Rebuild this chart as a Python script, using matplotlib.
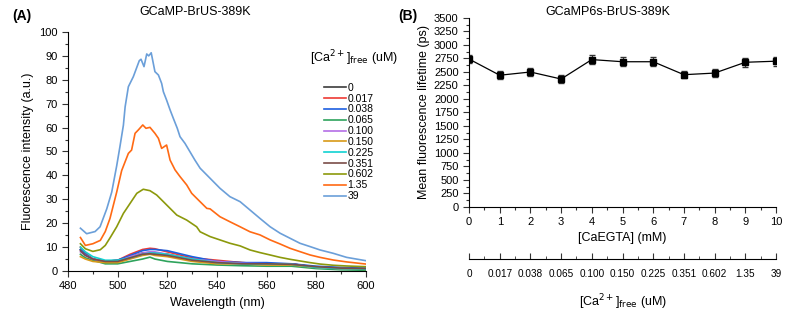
import matplotlib
matplotlib.use('Agg')
import matplotlib.pyplot as plt
from matplotlib.ticker import MultipleLocator

plt.rcParams['font.family'] = ['Liberation Sans', 'DejaVu Sans']

# --- Dados (A) espectros ---
wl_low = [485, 487, 490, 495, 500, 505, 510, 513, 515, 520, 530, 540, 550, 560, 570, 580, 590, 600]
low_series = {
    '0':     [9.0, 7.0, 5.0, 4.0, 4.5, 6.0, 7.5, 7.8, 7.5, 7.0, 5.0, 4.0, 3.5, 3.0, 3.0, 1.5, 1.0, 1.0],
    '0.017': [10.0, 7.5, 5.0, 4.0, 4.5, 7.0, 9.0, 9.5, 9.3, 8.0, 5.5, 4.5, 3.5, 3.0, 3.0, 1.5, 1.2, 1.0],
    '0.038': [9.0, 7.0, 5.0, 4.0, 4.5, 6.5, 8.5, 9.0, 9.0, 8.5, 6.0, 4.0, 3.5, 3.5, 3.0, 2.0, 1.5, 1.2],
    '0.065': [7.0, 5.5, 4.5, 3.0, 3.0, 4.0, 5.0, 5.8, 5.0, 4.0, 3.0, 2.5, 2.2, 2.0, 2.0, 1.0, 0.5, 0.3],
    '0.100': [8.0, 6.5, 5.0, 4.0, 4.0, 6.0, 7.5, 8.0, 8.0, 7.0, 5.0, 4.0, 3.2, 3.0, 2.8, 1.5, 1.0, 0.8],
    '0.150': [6.0, 5.0, 4.0, 3.5, 3.5, 5.0, 6.5, 7.0, 6.5, 6.0, 4.0, 3.0, 3.0, 2.5, 2.5, 1.5, 1.0, 0.7],
    '0.225': [10.0, 8.0, 6.0, 4.5, 4.5, 5.5, 7.0, 7.5, 7.5, 7.0, 5.0, 3.5, 3.0, 3.0, 2.8, 1.5, 1.0, 0.8],
    '0.351': [8.5, 6.5, 5.0, 4.0, 4.0, 5.5, 7.0, 7.2, 7.0, 6.5, 4.5, 3.5, 3.0, 3.0, 2.8, 1.8, 1.2, 1.0],
}

wl_602 = [485, 487, 490, 493, 495, 497, 499.6, 502.3, 505.0, 507.7, 510.3, 513.0, 515.7, 518.4,
          521.1, 523.8, 527.8, 531.8, 533.2, 537.2, 541.2, 545.2, 549.3, 553.3, 557.3, 561.4,
          565.4, 569.4, 573.4, 577.5, 581.5, 586.8, 592.2, 600]
int_602 = [11.4, 9.3, 8.2, 8.9, 10.7, 14.0, 18.5, 24.1, 28.3, 32.5, 34.2, 33.6, 31.8, 29.0,
           26.2, 23.4, 21.3, 18.5, 16.4, 14.4, 13.0, 11.6, 10.5, 8.8, 7.7, 6.7,
           5.7, 4.9, 4.2, 3.5, 2.9, 2.4, 2.1, 1.8]

wl_135 = [485, 487, 490, 493, 495, 496.9, 499.6, 501.6, 504.3, 505.6, 507.0, 508.3, 510.1, 511.4,
          513.0, 515.0, 516.4, 517.7, 519.7, 521.1, 523.1, 525.1, 527.8, 529.8, 532.5, 535.9,
          537.2, 541.2, 545.2, 549.3, 553.3, 557.3, 561.4, 565.4, 569.4, 573.4, 577.5, 581.5,
          586.8, 592.2, 600]
int_135 = [14.0, 10.7, 11.4, 12.8, 16.5, 22.0, 33.0, 42.0, 49.2, 50.6, 57.6, 59.0, 61.1, 59.7,
           60.1, 57.6, 55.5, 51.3, 52.7, 46.4, 42.3, 39.5, 36.0, 32.5, 29.7, 26.2,
           26.0, 22.7, 20.6, 18.5, 16.4, 15.1, 13.0, 11.3, 9.5, 8.1, 6.7, 5.7,
           4.6, 3.8, 2.9]

wl_39 = [485, 487.5, 490.9, 492.9, 495.6, 497.6, 499.6, 500.9, 502.3, 503.0, 504.3, 506.3, 508.7,
         509.4, 510.6, 511.7, 512.5, 513.5, 515.0, 516.4, 517.7, 518.4, 519.7, 521.1, 522.4,
         524.0, 525.1, 527.1, 529.1, 531.1, 533.2, 537.2, 541.2, 545.2, 549.3, 553.3, 557.3,
         561.4, 565.4, 569.4, 573.4, 577.5, 581.5, 586.8, 592.2, 600]
int_39 = [17.9, 15.6, 16.5, 18.5, 26.0, 33.0, 44.0, 52.0, 61.0, 68.7, 77.1, 81.3, 88.0,
          88.6, 85.5, 90.8, 90.0, 91.3, 83.4, 82.0, 78.5, 75.0, 71.5, 67.4, 63.9,
          59.7, 56.2, 53.4, 49.9, 46.4, 43.0, 38.8, 34.6, 31.1, 29.0, 25.5, 22.0,
          18.5, 15.8, 13.7, 11.6, 10.2, 8.8, 7.4, 5.7, 4.3]

legend_order = ['0', '0.017', '0.038', '0.065', '0.100', '0.150', '0.225', '0.351', '0.602', '1.35', '39']
colors = {
    '0': '#3c3c3c', '0.017': '#ee3a34', '0.038': '#1c5fe0', '0.065': '#2ea35c',
    '0.100': '#b46ee6', '0.150': '#d89a18', '0.225': '#10d2d2', '0.351': '#7a4d48',
    '0.602': '#8c990c', '1.35': '#ff6a14', '39': '#6b9fd9',
}

# --- Dados (B) tempo de vida ---
caegta = [0, 1, 2, 3, 4, 5, 6, 7, 8, 9, 10]
lifetime = [2740, 2440, 2500, 2370, 2730, 2690, 2690, 2450, 2480, 2680, 2700]
lifetime_err = [80, 70, 70, 70, 80, 80, 80, 70, 70, 80, 80]
ca_free_labels = ['0', '0.017', '0.038', '0.065', '0.100', '0.150', '0.225', '0.351', '0.602', '1.35', '39']

fig = plt.figure(figsize=(7.9, 3.13), dpi=100)

def style_axes(ax):
    for s in ['top', 'right']:
        ax.spines[s].set_visible(False)
    ax.tick_params(which='both', direction='out', labelsize=8, width=0.8, color='#333333')
    ax.tick_params(which='major', length=4)
    ax.tick_params(which='minor', length=2)

# --- Painel A ---
axA = fig.add_axes([0.0861, 0.1342, 0.3772, 0.7636])
for key in legend_order:
    if key in low_series:
        x, y = wl_low, low_series[key]
    elif key == '0.602':
        x, y = wl_602, int_602
    elif key == '1.35':
        x, y = wl_135, int_135
    else:
        x, y = wl_39, int_39
    axA.plot(x, y, color=colors[key], lw=1.2, label=key)
axA.set_xlim(480, 600)
axA.set_ylim(0, 100)
axA.xaxis.set_major_locator(MultipleLocator(20))
axA.xaxis.set_minor_locator(MultipleLocator(10))
axA.yaxis.set_major_locator(MultipleLocator(10))
axA.yaxis.set_minor_locator(MultipleLocator(5))
style_axes(axA)
axA.set_xlabel('Wavelength (nm)', fontsize=9, labelpad=4)
axA.set_ylabel('Fluorescence intensity (a.u.)', fontsize=9, labelpad=4)
leg = axA.legend(loc='upper left', bbox_to_anchor=(0.403, 0.752), bbox_transform=fig.transFigure,
                 frameon=False, fontsize=7.5, handlelength=2.2, handletextpad=0.1,
                 labelspacing=0.08, borderpad=0)
fig.text(0.393, 0.815, r'[Ca$^{2+}$]$_{\rm free}$ (uM)', fontsize=9, va='center', ha='left')
fig.text(0.247, 0.962, 'GCaMP-BrUS-389K', fontsize=9, ha='center', va='center')
fig.text(0.015, 0.95, '(A)', fontsize=10, fontweight='bold', ha='left', va='center')

# --- Painel B ---
axB = fig.add_axes([0.5937, 0.3387, 0.3886, 0.6038])
axB.errorbar(caegta, lifetime, yerr=lifetime_err, color='black', marker='s', ms=5,
             lw=0.9, capsize=2.5, elinewidth=0.9, ecolor='#333333')
axB.set_xlim(0, 10)
axB.set_ylim(0, 3500)
axB.xaxis.set_major_locator(MultipleLocator(1))
axB.xaxis.set_minor_locator(MultipleLocator(0.5))
axB.yaxis.set_major_locator(MultipleLocator(250))
axB.yaxis.set_minor_locator(MultipleLocator(125))
style_axes(axB)
axB.set_xlabel('[CaEGTA] (mM)', fontsize=9, labelpad=3)
axB.set_ylabel('Mean fluorescence lifetime (ps)', fontsize=9, labelpad=3)

sec = axB.secondary_xaxis(-0.275)
sec.set_xticks(caegta)
sec.set_xticklabels(ca_free_labels)
sec.xaxis.set_minor_locator(MultipleLocator(0.5))
sec.tick_params(which='both', direction='in', labelsize=7.2, color='#333333', pad=7)
sec.tick_params(which='major', length=4)
sec.tick_params(which='minor', length=2)
sec.set_xlabel(r'[Ca$^{2+}$]$_{\rm free}$ (uM)', fontsize=9, labelpad=10)

fig.text(0.77, 0.962, 'GCaMP6s-BrUS-389K', fontsize=9, ha='center', va='center')
fig.text(0.504, 0.95, '(B)', fontsize=10, fontweight='bold', ha='left', va='center')

fig.savefig('out.png', dpi=100)
